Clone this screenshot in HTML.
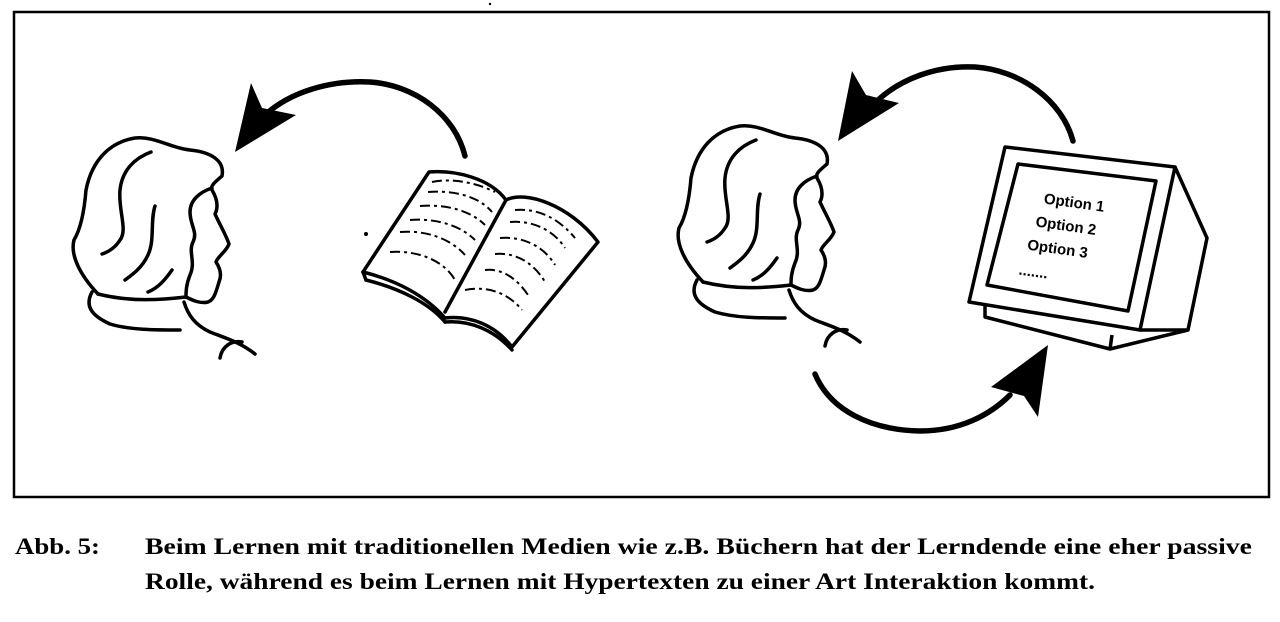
<!DOCTYPE html>
<html><head><meta charset="utf-8"><style>
html,body{margin:0;padding:0;background:#fff;}
svg{display:block}
</style></head><body>
<svg width="1280" height="622" viewBox="0 0 1280 622" xmlns="http://www.w3.org/2000/svg">
<rect x="14" y="12" width="1255" height="485" fill="none" stroke="#000" stroke-width="2.5"/>
<circle cx="490" cy="4" r="1.2" fill="#000"/>
<defs>
<g id="head" fill="none" stroke="#000" stroke-width="3.5" stroke-linecap="round" stroke-linejoin="round">
<path d="M98,294 C80,275 70,255 74,240 C80,230 84,215 86,190 C92,160 110,142 135,138 C155,136 170,148 190,150 C210,152 225,160 222,176 C215,182 210,186 212,190 C218,200 218,208 215,214 C220,225 226,235 229,244 C226,252 218,256 216,262 C220,268 222,275 219,282 C216,292 214,300 208,302 C200,304 192,300 186,297"/>
<path d="M98,294 C130,302 160,300 186,297"/>
<path d="M151,152 C135,158 122,170 120,190 C118,210 128,230 120,240 C115,248 108,252 102,254"/>
<path d="M155,206 C150,222 155,240 148,255 C142,268 132,275 125,280"/>
<path d="M172,270 C165,280 158,288 148,292"/>
<path d="M212,188 C200,192 190,200 190,212 C190,225 198,232 193,242 C188,252 196,262 190,275 C186,285 186,292 186,297"/>
<path d="M92,292 C85,305 90,315 110,324 C130,330 155,330 180,330"/>
<path d="M184,302 C188,315 195,325 210,332 C225,338 240,342 255,354"/>
<path d="M220,358 C222,346 232,340 242,342"/>
</g>
</defs>
<use href="#head"/>
<use href="#head" transform="translate(605,-12)"/>

<path d="M465,156 C455,115 415,85 370,82 C330,80 290,92 265,115" fill="none" stroke="#000" stroke-width="5.5" stroke-linecap="round"/>
<polygon points="235,152 251,83 262,108 296,115" fill="#000"/>

<g fill="none" stroke="#000" stroke-width="3.5" stroke-linejoin="round" stroke-linecap="round">
<path d="M363,272 L429,172 C455,170 490,178 506,200 L445,312"/>
<path d="M506,200 C525,190 570,205 598,242 L512,347 C495,325 470,315 445,318"/>
<path d="M363,272 C395,280 425,295 445,318"/>
<path d="M366,280 C398,288 428,302 445,322"/>
<path d="M366,280 L363,272"/>
<path d="M445,322 C470,320 494,330 512,350"/>
</g>
<g fill="none" stroke="#000" stroke-width="2" stroke-dasharray="10,4,3,4">
<path d="M432,182 C450,178 475,182 495,192"/>
<path d="M428,192 C450,190 478,195 492,212"/>
<path d="M420,206 C445,204 470,210 485,225"/>
<path d="M410,220 C435,218 460,225 475,240"/>
<path d="M400,232 C425,230 450,238 465,255"/>
<path d="M390,252 C420,250 445,262 455,280"/>
<path d="M515,210 C540,208 560,220 575,238"/>
<path d="M510,222 C535,220 555,232 565,248"/>
<path d="M500,238 C525,236 545,248 555,265"/>
<path d="M495,254 C518,252 535,265 545,282"/>
<path d="M485,270 C505,268 520,282 530,298"/>
<path d="M465,290 C490,285 510,295 522,310"/>
</g>
<circle cx="366" cy="234" r="2" fill="#000"/>

<path d="M1073,141 C1062,100 1020,70 975,67 C935,65 900,80 878,100" fill="none" stroke="#000" stroke-width="5.5" stroke-linecap="round"/>
<polygon points="838,141 852,71 866,95 899,103" fill="#000"/>
<path d="M815,374 C830,410 870,430 920,431 C960,431 990,415 1010,395" fill="none" stroke="#000" stroke-width="5.5" stroke-linecap="round"/>
<polygon points="1048,345 1038,417 1024,396 991,387" fill="#000"/>

<g fill="none" stroke="#000" stroke-width="3.5" stroke-linejoin="round">
<path d="M1005,147 L1175,167 L1140,330 L969,302 Z"/>
<path d="M1018,164 L1156,181 L1128,311 L987,285 Z"/>
<path d="M1175,167 L1207,238 L1188,330 L1140,330"/>
<path d="M985,306 L985,317 L1110,349 L1188,330"/>
<path d="M1110,349 L1112,335"/>
</g>
<g font-family="Liberation Sans, sans-serif" font-weight="bold" font-size="15" fill="#000" transform="rotate(8 1075 230)">
<text x="1040" y="208">Option 1</text>
<text x="1035" y="232">Option 2</text>
<text x="1030" y="256">Option 3</text>
<text x="1025" y="282">.......</text>
</g>

<g font-family="Liberation Serif, serif" font-size="23" font-weight="bold" fill="#000">
<text x="15" y="554" textLength="85" lengthAdjust="spacingAndGlyphs">Abb. 5:</text>
<text x="145" y="554" textLength="1107" lengthAdjust="spacingAndGlyphs">Beim Lernen mit traditionellen Medien wie z.B. Büchern hat der Lerndende eine eher passive</text>
<text x="145" y="589" textLength="950" lengthAdjust="spacingAndGlyphs">Rolle, während es beim Lernen mit Hypertexten zu einer Art Interaktion kommt.</text>
</g>
</svg>
</body></html>
